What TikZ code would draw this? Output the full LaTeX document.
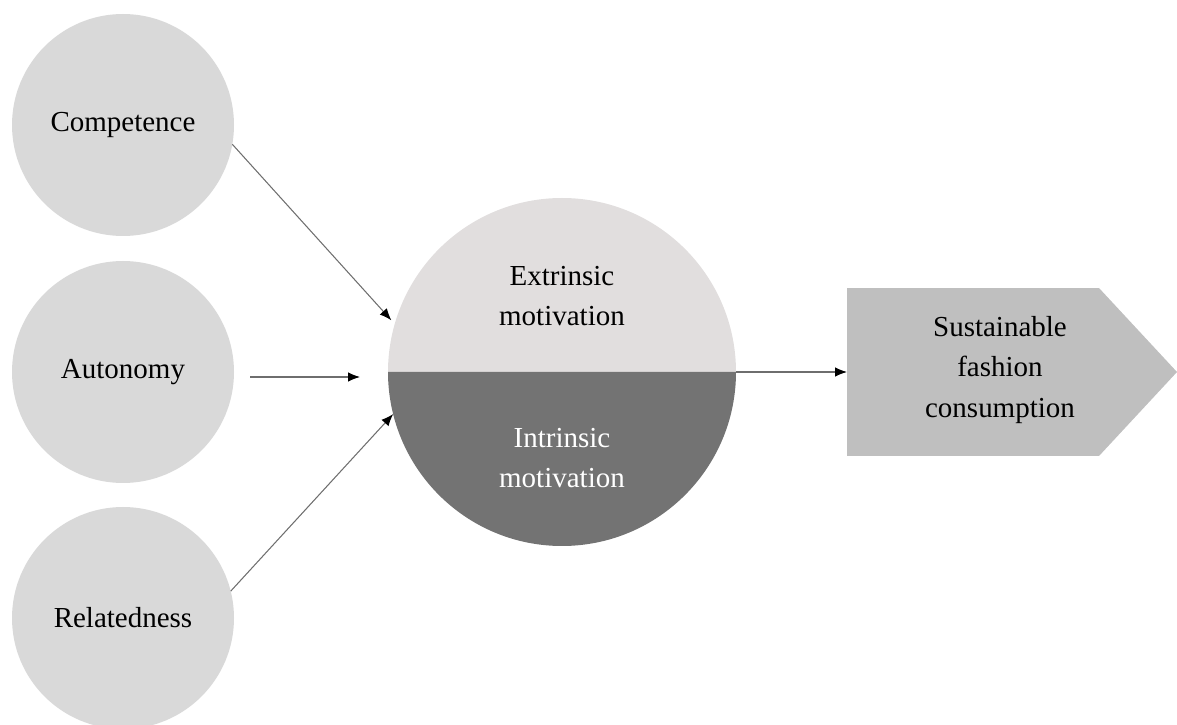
\documentclass[tikz,border=0pt]{standalone}
\usepackage{fontspec}
\setmainfont{Liberation Serif}
\usetikzlibrary{arrows.meta}
\definecolor{NeedGray}{HTML}{D9D9D9}
\definecolor{ExtGray}{HTML}{E1DEDE}
\definecolor{IntGray}{HTML}{737373}
\definecolor{OutGray}{HTML}{BFBFBF}
\definecolor{LineGray}{HTML}{6E6E6E}

\begin{document}
\begin{tikzpicture}[
    need/.style={circle, fill=NeedGray, minimum size=4.44cm, inner sep=0pt, outer sep=0pt, font=\fontsize{16.5}{22.8}\selectfont},
    txt/.style={align=center, inner sep=0pt, font=\fontsize{16.5}{22.8}\selectfont},
    arrow/.style={-{Latex[length=2.4mm, width=1.9mm, color=black]}, draw=LineGray, line width=0.6pt}
]
\useasboundingbox (0,0) rectangle (23.54,-14.5);

\node[need] (comp) at (2.46,-2.50) {Competence};
\node[need] (auto) at (2.46,-7.44) {Autonomy};
\node[need] (rel) at (2.46,-12.36) {Relatedness};

% split circle in the middle
\node[circle, minimum size=6.96cm, inner sep=0pt, outer sep=0pt] (motiv) at (11.24,-7.44) {};
\fill[ExtGray] (motiv.west) arc[start angle=180, end angle=0, radius=3.48cm] -- cycle;
\fill[IntGray] (motiv.west) arc[start angle=180, end angle=360, radius=3.48cm] -- cycle;
\node[txt] (extT) at (11.24,-5.92) {Extrinsic\\motivation};
\node[txt, text=white] (intT) at (11.24,-9.17) {Intrinsic\\motivation};

% outcome box with pointed end
\node[rectangle, fill=OutGray, minimum width=5.04cm, minimum height=3.36cm, inner sep=0pt, outer sep=0pt] (cons) at (19.46,-7.44) {};
\fill[OutGray] (cons.north east) -- (23.54,-7.44) -- (cons.south east) -- cycle;
\node[txt] (consT) at (20.0,-7.40) {Sustainable\\fashion\\consumption};

\draw[arrow, shorten >=0.1cm] (comp.-10) -- (motiv.164);
\draw[arrow] ([xshift=0.32cm, yshift=-0.1cm]auto.east) -- ([xshift=-0.56cm, yshift=-0.1cm]motiv.west);
\draw[arrow] (rel.14) -- (motiv.194);
\draw[arrow] (motiv.east) -- (cons.west);
\end{tikzpicture}
\end{document}
